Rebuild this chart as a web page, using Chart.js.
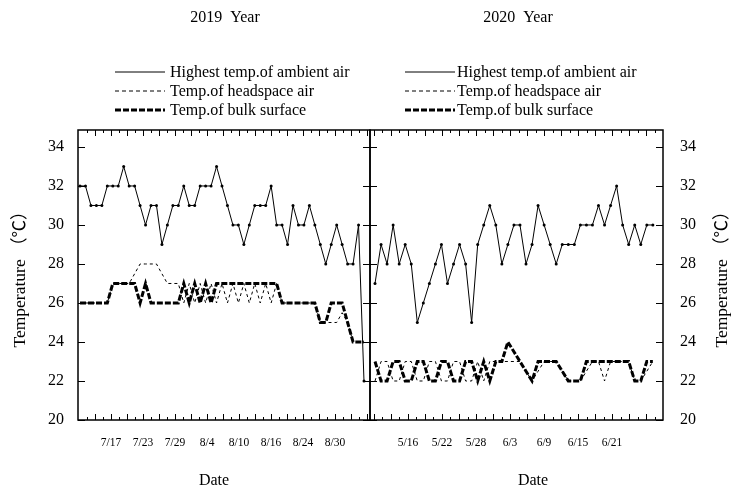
<!DOCTYPE html>
<html>
<head>
<meta charset="utf-8">
<script src="https://cdn.jsdelivr.net/npm/chart.js@4.4.1/dist/chart.umd.min.js"></script>
<style>
  body { margin: 0; background: #fff; }
  canvas { position: absolute; top: 0; }
</style>
</head>
<body>
<canvas id="chart2019" width="371" height="491" style="left:0"></canvas>
<canvas id="chart2020" width="366" height="491" style="left:369px"></canvas>
<script>
// 2019 values, one per day
const dates2019 = ["7/17", "7/23", "7/29", "8/4", "8/10", "8/16", "8/24", "8/30"];
const ambient2019 = [32, 32, 31, 31, 31, 32, 32, 32, 33, 32, 32, 31, 30, 31, 31, 29, 30, 31, 31, 32, 31, 31, 32, 32, 32, 33,
  32, 31, 30, 30, 29, 30, 31, 31, 31, 32, 30, 30, 29, 31, 30, 30, 31, 30, 29, 28, 29, 30, 29, 28, 28, 30, 22];
const headspace2019 = [26, 26, 26, 26, 26, 26, 27, 27, 27, 27, 27.5, 28, 28, 28, 28, 27.5, 27, 27, 27, 26, 27, 26, 27, 26, 27, 26,
  27, 26, 27, 26, 27, 26, 27, 26, 27, 26, 27, 26, 26, 26, 26, 26, 26, 26, 25, 25, 25, 25, 25.5, 25, 24, 24, 24];
const bulk2019 = [26, 26, 26, 26, 26, 26, 27, 27, 27, 27, 27, 26, 27, 26, 26, 26, 26, 26, 26, 27, 26, 27, 26, 27, 26, 27,
  27, 27, 27, 27, 27, 27, 27, 27, 27, 27, 27, 26, 26, 26, 26, 26, 26, 26, 25, 25, 26, 26, 26, 25, 24, 24, 24];

// 2020 values
const dates2020 = ["5/16", "5/22", "5/28", "6/3", "6/9", "6/15", "6/21"];
const ambient2020 = [27, 29, 28, 30, 28, 29, 28, 25, 26, 27, 28, 29, 27, 28, 29, 28, 25, 29, 30, 31, 30, 28, 29, 30,
  30, 28, 29, 31, 30, 29, 28, 29, 29, 29, 30, 30, 30, 31, 30, 31, 32, 30, 29, 30, 29, 30, 30];
const headspace2020 = [22, 23, 23, 22, 22, 23, 23, 22, 22, 23, 23, 22, 22, 23, 23, 22, 22, 23, 22, 23, 23, 23, 23, 23,
  23, 22.5, 22, 22.5, 23, 23, 23, 22.5, 22, 22, 22, 22.5, 23, 23, 22, 23, 23, 23, 23, 22, 22, 22.5, 23];
const bulk2020 = [23, 22, 22, 23, 23, 22, 22, 23, 23, 22, 22, 23, 23, 22, 22, 23, 23, 22, 23, 22, 23, 23, 24, 23.5,
  23, 22.5, 22, 23, 23, 23, 23, 22.5, 22, 22, 22, 23, 23, 23, 23, 23, 23, 23, 23, 22, 22, 23, 23];

const tempTicks = [20, 22, 24, 26, 28, 30, 32, 34];
const seriesNames = ["Highest temp.of ambient air", "Temp.of headspace air", "Temp.of bulk surface"];

const serif = "'Liberation Serif', 'Times New Roman', 'Noto Sans CJK SC', serif";

function points(values) {
  return values.map((v, i) => ({ x: i, y: v }));
}

// minor marks every quarter of the date spacing, labels on every 4th
function dateTicks(labels, first, step) {
  return function (scale) {
    const minor = step / 4;
    const ticks = [];
    for (let k = Math.ceil((scale.min - first) / minor); first + k * minor <= scale.max; k++) {
      const v = first + k * minor;
      if (v - scale.min < 0.3 || scale.max - v < 0.3) continue;
      const txt = (k % 4 === 0 && labels[k / 4]) || '';
      ticks.push({ value: v, long: k % 2 === 0, txt: txt });
    }
    scale.ticks = ticks;
  };
}

// frame, inward tick marks, titles and legend
const decor = {
  id: 'decor',
  afterDraw(chart, args, o) {
    const ctx = chart.ctx;
    const a = chart.chartArea;
    const x = chart.scales.x, y = chart.scales.y;
    ctx.save();
    ctx.strokeStyle = '#000';
    ctx.lineWidth = 1;
    ctx.beginPath();
    y.ticks.forEach(t => {
      const py = Math.round(y.getPixelForValue(t.value)) + 0.5;
      ctx.moveTo(a.left, py); ctx.lineTo(a.left + 7, py);
      ctx.moveTo(a.right, py); ctx.lineTo(a.right - 7, py);
    });
    x.ticks.forEach(t => {
      const px = Math.round(x.getPixelForValue(t.value)) + 0.5;
      const len = t.long ? 6 : 3;
      ctx.moveTo(px, a.top); ctx.lineTo(px, a.top + len);
      ctx.moveTo(px, a.bottom); ctx.lineTo(px, a.bottom - len);
    });
    ctx.stroke();
    ctx.lineWidth = 1.5;
    ctx.strokeRect(a.left, a.top, a.right - a.left, a.bottom - a.top);

    ctx.fillStyle = '#000';
    ctx.textBaseline = 'middle';
    ctx.textAlign = 'center';
    ctx.font = '16px ' + serif;
    ctx.fillText(o.title, o.titleX, 18);
    ctx.fillText('Date', o.dateX, 481);

    ctx.save();
    ctx.translate(o.tempX, 275);
    ctx.rotate(-Math.PI / 2);
    ctx.font = '17.5px ' + serif;
    ctx.fillText('Temperature （℃）', 0, 0);
    ctx.restore();

    ctx.textAlign = 'left';
    ctx.font = '16px ' + serif;
    chart.data.datasets.forEach((ds, i) => {
      const ly = 72 + i * 19;
      ctx.beginPath();
      ctx.lineWidth = ds.borderWidth;
      ctx.setLineDash(ds.legendDash || []);
      ctx.moveTo(o.legendX, ly);
      ctx.lineTo(o.legendX + 50, ly);
      ctx.stroke();
      ctx.setLineDash([]);
      ctx.fillText(ds.label, o.legendX + o.textGap, ly + 1);
    });
    ctx.restore();
  }
};

function makeDatasets(high, head, bulk) {
  return [{
    label: seriesNames[0],
    data: points(high),
    borderColor: '#000',
    borderWidth: 1,
    pointRadius: 1.5,
    pointBackgroundColor: '#000',
    pointBorderWidth: 0,
    legendDash: []
  }, {
    label: seriesNames[1],
    data: points(head),
    borderColor: '#000',
    borderWidth: 1,
    borderDash: [3, 3],
    pointRadius: 0,
    legendDash: [4, 3]
  }, {
    label: seriesNames[2],
    data: points(bulk),
    borderColor: '#000',
    borderWidth: 3,
    borderDash: [6, 2],
    pointRadius: 0,
    legendDash: [6, 2]
  }];
}

function makeChart(id, cfg) {
  return new Chart(document.getElementById(id), {
    type: 'line',
    data: { datasets: makeDatasets(cfg.high, cfg.head, cfg.bulk) },
    options: {
      responsive: false,
      animation: false,
      layout: { padding: cfg.padding, autoPadding: false },
      plugins: {
        legend: { display: false },
        tooltip: { enabled: false },
        decor: cfg.decor
      },
      scales: {
        x: {
          type: 'linear',
          min: cfg.xMin,
          max: cfg.xMax,
          // invisible tick marks only push the labels down
          grid: { display: true, drawOnChartArea: false, drawTicks: true, tickLength: 16, color: 'rgba(0,0,0,0)' },
          border: { display: false },
          afterBuildTicks: dateTicks(cfg.dates, cfg.firstDate, cfg.dateStep),
          afterFit: s => { s.height = 71; },
          ticks: {
            autoSkip: false,
            maxRotation: 0,
            padding: 0,
            color: '#000',
            font: { family: serif, size: 11.5 },
            callback: (v, i, ticks) => ticks[i].txt
          }
        },
        y: {
          position: cfg.yPos,
          min: 20,
          max: 34.87,
          grid: { display: false },
          border: { display: false },
          afterBuildTicks: s => { s.ticks = tempTicks.map(v => ({ value: v })); },
          afterFit: s => { s.width = cfg.yWidth; },
          ticks: {
            padding: cfg.yPad,
            color: '#000',
            font: { family: serif, size: 16 }
          }
        }
      }
    },
    plugins: [decor]
  });
}

makeChart('chart2019', {
  high: ambient2019, head: headspace2019, bulk: bulk2019,
  dates: dates2019, firstDate: 5.68, dateStep: 5.86,
  xMin: -0.37, xMax: 53.1,
  yPos: 'left', yWidth: 78, yPad: 6,
  padding: { top: 130, bottom: 0, left: 0, right: 1 },
  decor: { title: '2019  Year', titleX: 225, dateX: 214, tempX: 20, legendX: 115, textGap: 55 }
});

makeChart('chart2020', {
  high: ambient2020, head: headspace2020, bulk: bulk2020,
  dates: dates2020, firstDate: 5.46, dateStep: 5.63,
  xMin: -0.83, xMax: 47.68,
  yPos: 'right', yWidth: 72, yPad: 9,
  padding: { top: 130, bottom: 0, left: 1, right: 0 },
  decor: { title: '2020  Year', titleX: 149, dateX: 164, tempX: 353, legendX: 36, textGap: 52 }
});
</script>
</body>
</html>
